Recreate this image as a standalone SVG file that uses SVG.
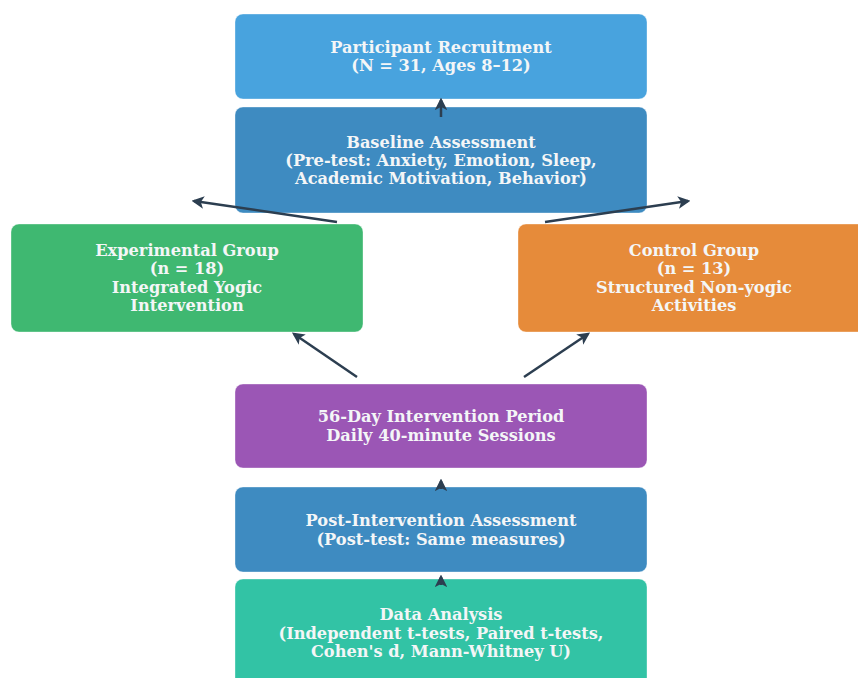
<svg xmlns="http://www.w3.org/2000/svg" width="858" height="678" viewBox="0 0 858 678">
  <defs>
    <marker id="head" viewBox="0 0 10 10" refX="8" refY="5" markerWidth="5" markerHeight="5" orient="auto" markerUnits="strokeWidth">
      <path d="M0,0 L10,5 L0,10 L2.5,5 Z" fill="#2c3e50"/>
    </marker>
    <style>
      .box { stroke: #ffffff; stroke-opacity: 0.35; stroke-width: 1; }
      .lbl { font-family: "DejaVu Serif", "Liberation Serif", serif; font-weight: bold; font-size: 16.2px; fill: #f4f6f7; text-anchor: middle; }
      .edge { stroke: #2c3e50; stroke-width: 2.5; fill: none; marker-end: url(#head); }
    </style>
  </defs>
  <rect width="858" height="678" fill="#ffffff"/>

  <g id="recruitment">
    <rect class="box" x="235" y="14" width="412" height="85" rx="8" fill="#48a3de"/>
    <text class="lbl" x="441" y="53">Participant Recruitment</text>
    <text class="lbl" x="441" y="71">(N = 31, Ages 8–12)</text>
  </g>

  <g id="baseline">
    <rect class="box" x="235" y="107" width="412" height="106" rx="8" fill="#3e8bc1"/>
    <text class="lbl" x="441" y="148">Baseline Assessment</text>
    <text class="lbl" x="441" y="166">(Pre-test: Anxiety, Emotion, Sleep,</text>
    <text class="lbl" x="441" y="184">Academic Motivation, Behavior)</text>
  </g>

  <g id="experimental">
    <rect class="box" x="11" y="224" width="352" height="108" rx="8" fill="#3fb871"/>
    <text class="lbl" x="187" y="256">Experimental Group</text>
    <text class="lbl" x="187" y="274">(n = 18)</text>
    <text class="lbl" x="187" y="293">Integrated Yogic</text>
    <text class="lbl" x="187" y="311">Intervention</text>
  </g>

  <g id="control">
    <rect class="box" x="518" y="224" width="352" height="108" rx="8" fill="#e68b3a"/>
    <text class="lbl" x="694" y="256">Control Group</text>
    <text class="lbl" x="694" y="274">(n = 13)</text>
    <text class="lbl" x="694" y="293">Structured Non-yogic</text>
    <text class="lbl" x="694" y="311">Activities</text>
  </g>

  <g id="intervention">
    <rect class="box" x="235" y="384" width="412" height="84" rx="8" fill="#9b56b5"/>
    <text class="lbl" x="441" y="422">56-Day Intervention Period</text>
    <text class="lbl" x="441" y="441">Daily 40-minute Sessions</text>
  </g>

  <g id="post">
    <rect class="box" x="235" y="487" width="412" height="85" rx="8" fill="#3e8bc1"/>
    <text class="lbl" x="441" y="526">Post-Intervention Assessment</text>
    <text class="lbl" x="441" y="545">(Post-test: Same measures)</text>
  </g>

  <g id="analysis">
    <rect class="box" x="235" y="579" width="412" height="110" rx="8" fill="#32c3a5"/>
    <text class="lbl" x="441" y="620">Data Analysis</text>
    <text class="lbl" x="441" y="639">(Independent t-tests, Paired t-tests,</text>
    <text class="lbl" x="441" y="657">Cohen's d, Mann-Whitney U)</text>
  </g>

  <g id="connectors">
    <line class="edge" x1="441" y1="117" x2="441" y2="100"/>
    <line class="edge" x1="337" y1="222" x2="194" y2="201"/>
    <line class="edge" x1="545" y1="222" x2="688" y2="201"/>
    <line class="edge" x1="357" y1="377" x2="294" y2="334"/>
    <line class="edge" x1="524" y1="377" x2="588" y2="334"/>
    <line class="edge" x1="441" y1="489" x2="441" y2="481"/>
    <line class="edge" x1="441" y1="585" x2="441" y2="577"/>
  </g>
</svg>
